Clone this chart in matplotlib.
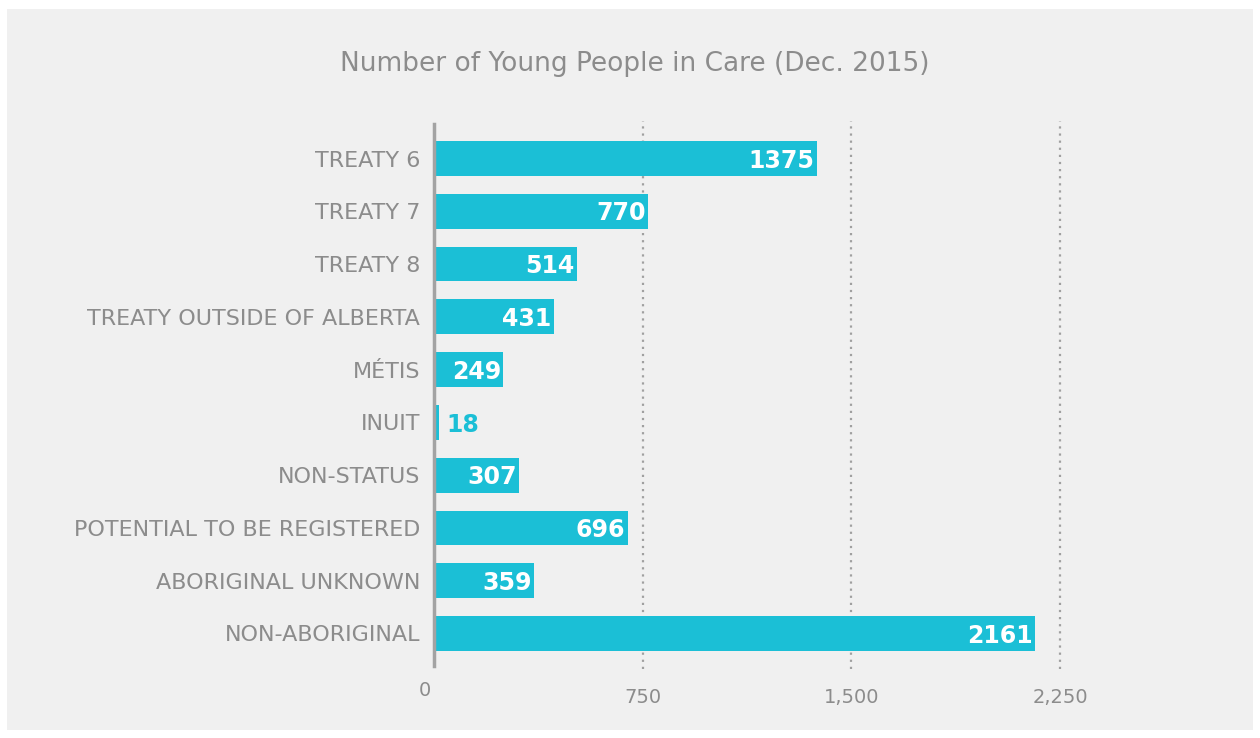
import matplotlib.pyplot as plt
from matplotlib.patches import Rectangle
import matplotlib.transforms as mtransforms

categories = ["TREATY 6", "TREATY 7", "TREATY 8", "TREATY OUTSIDE OF ALBERTA", "MÉTIS",
              "INUIT", "NON-STATUS", "POTENTIAL TO BE REGISTERED", "ABORIGINAL UNKNOWN",
              "NON-ABORIGINAL"]
values = [1375, 770, 514, 431, 249, 18, 307, 696, 359, 2161]
x_ticks = [0, 750, 1500, 2250]
x_tick_labels = ["0", "750", "1,500", "2,250"]
title = "Number of Young People in Care (Dec. 2015)"

bar_color = "#1bbfd6"
text_gray = "#8c8c8c"
panel = "#f0f0f0"

W, H = 1260, 738
fig = plt.figure(figsize=(W / 100, H / 100), dpi=100, facecolor="white")

# light grey panel behind the chart
fig.patches.append(Rectangle((7 / W, 1 - 730 / H), (1253 - 7) / W, (730 - 9) / H,
                             transform=fig.transFigure, facecolor=panel,
                             edgecolor="none", zorder=-1))

ax = fig.add_axes([434 / W, 1 - 666 / H, (1060 - 434) / W, (666 - 124) / H])
ax.set_facecolor("none")

ypos = list(range(len(categories)))
ax.barh(ypos, values, height=0.66, color=bar_color, zorder=3)
ax.set_ylim(len(categories) - 0.384, -0.654)
ax.set_xlim(0, 2250)

for s in ["top", "right", "bottom"]:
    ax.spines[s].set_visible(False)
ax.spines["left"].set_color("#a3a3a3")
ax.spines["left"].set_linewidth(2.5)
ax.spines["left"].set_zorder(4)

for t in x_ticks[1:]:
    ax.axvline(t, color="#a0a0a0", linestyle=(0, (1, 2.2)), linewidth=1.6, zorder=1,
               ymin=-0.005, ymax=1.005, clip_on=False)

ax.set_yticks(ypos)
ax.set_yticklabels(categories, fontsize=16, color=text_gray)
ax.tick_params(axis="y", length=0, pad=10)

ax.set_xticks(x_ticks)
ax.set_xticklabels(x_tick_labels, fontsize=14, color=text_gray)
ax.tick_params(axis="x", length=0, pad=16)
# the zero label sits a bit higher and to the left
zl = ax.get_xticklabels()[0]
zl.set_transform(zl.get_transform() + mtransforms.ScaledTranslation(-9 / 100, 7 / 100, fig.dpi_scale_trans))

for y, v in zip(ypos, values):
    if v > 150:
        ax.text(v - 8, y + 0.04, str(v), ha="right", va="center", color="white",
                fontsize=17, fontweight="bold", zorder=5)
    else:
        ax.text(v + 25, y + 0.04, str(v), ha="left", va="center", color=bar_color,
                fontsize=17, fontweight="bold", zorder=5)

fig.text(635 / W, 1 - 64 / H, title, ha="center", va="center", fontsize=19, color=text_gray)

fig.savefig("out.png", dpi=100)
